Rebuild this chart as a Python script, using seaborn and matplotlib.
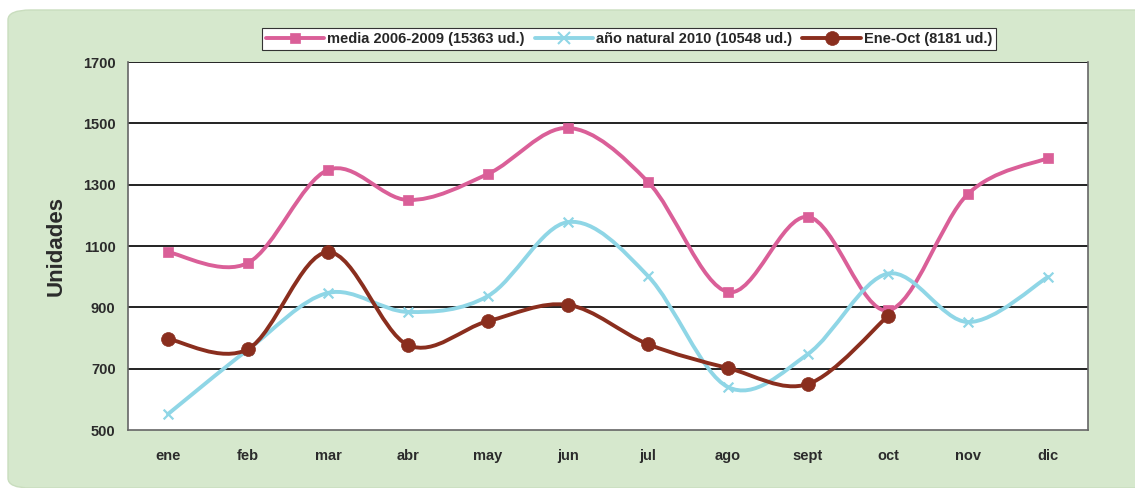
import numpy as np
import pandas as pd
import matplotlib
matplotlib.use("Agg")
import matplotlib.pyplot as plt
import seaborn as sns
from matplotlib.path import Path
from matplotlib.patches import PathPatch, FancyBboxPatch
from matplotlib.lines import Line2D

months = ["ene", "feb", "mar", "abr", "may", "jun", "jul", "ago", "sept", "oct", "nov", "dic"]
media_0609 = [1080, 1045, 1348, 1250, 1335, 1485, 1309, 950, 1195, 890, 1270, 1387]
natural_2010 = [552, 762, 947, 885, 937, 1178, 1002, 640, 748, 1010, 852, 999]
ene_oct = [797, 764, 1080, 777, 855, 908, 780, 702, 650, 872]
labels = ["media 2006-2009 (15363 ud.)", "año natural 2010 (10548 ud.)", "Ene-Oct (8181 ud.)"]
yticks = [500, 700, 900, 1100, 1300, 1500, 1700]

colors = ["#DA5F98", "#8FD6E6", "#8A2E1E"]
markers = ["s", "x", "o"]
msizes = [7, 7, 10]

sns.set_style("white")
plt.rcParams["font.family"] = ["Liberation Sans", "DejaVu Sans"]

fig = plt.figure(figsize=(11.35, 4.88), dpi=100)
fig.patch.set_facecolor("white")
bg = FancyBboxPatch((8 / 1135, 0.0), 1.05, 1 - 10 / 488, boxstyle="round,pad=0,rounding_size=0.02",
                    transform=fig.transFigure, facecolor="#D6E8CD", edgecolor="#C9DDBE", lw=1, zorder=-10)
fig.patches.append(bg)

ax = fig.add_axes([128 / 1135, 58 / 488, (1088 - 128) / 1135, (430 - 62) / 488])
ax.set_facecolor("white")


def smooth_path(xs, ys):
    pts = np.column_stack([xs, ys]).astype(float)
    n = len(pts)
    verts = [pts[0]]
    codes = [Path.MOVETO]
    for i in range(n - 1):
        p0 = pts[max(i - 1, 0)]
        p1 = pts[i]
        p2 = pts[i + 1]
        p3 = pts[min(i + 2, n - 1)]
        c1 = p1 + (p2 - p0) / 6.0
        c2 = p2 - (p3 - p1) / 6.0
        verts += [c1, c2, p2]
        codes += [Path.CURVE4] * 3
    return Path(verts, codes)


series = [media_0609, natural_2010, ene_oct]
handles = []
for vals, col, mk, ms, lab in zip(series, colors, markers, msizes, labels):
    xs = np.arange(len(vals))
    patch = PathPatch(smooth_path(xs, vals), facecolor="none", edgecolor=col, lw=2.8, zorder=3,
                      capstyle="round", joinstyle="round")
    ax.add_patch(patch)
    df = pd.DataFrame({"x": xs, "y": vals})
    if mk == "x":
        sns.scatterplot(data=df, x="x", y="y", marker="x", color=col, s=ms ** 2, linewidth=1.6,
                        ax=ax, zorder=4, legend=False)
    else:
        sns.scatterplot(data=df, x="x", y="y", marker=mk, color=col, s=ms ** 2, edgecolor=col,
                        linewidth=0.5, ax=ax, zorder=4, legend=False)
    handles.append(Line2D([], [], color=col, lw=2.8, marker=mk, markersize=ms if mk != "x" else 8,
                          markeredgewidth=1.5 if mk == "x" else 0.5, markerfacecolor=col, markeredgecolor=col))

ax.set_xlim(-0.5, 11.5)
ax.set_ylim(500, 1700)
ax.set_yticks(yticks)
ax.set_yticklabels([str(v) for v in yticks], fontsize=10.5, fontweight="bold", color="#2b2b2b")
ax.set_xticks(np.arange(len(months)))
ax.set_xticklabels(months, fontsize=10.5, fontweight="bold", color="#2b2b2b")
ax.set_xticks(np.arange(-0.5, 12, 1), minor=True)
ax.tick_params(axis="x", which="major", length=0, pad=14)
ax.tick_params(axis="x", which="minor", length=5, width=1, color="#555555", direction="out")
ax.tick_params(axis="y", which="major", length=5, width=1, color="#555555", direction="out", pad=4)
for y in yticks[1:]:
    ax.axhline(y, color="#222222", lw=1.4, zorder=1)
for s in ["left", "bottom", "right"]:
    ax.spines[s].set_color("#666666")
    ax.spines[s].set_linewidth(1.2)
ax.spines["top"].set_visible(False)
ax.set_xlabel("")
ax.set_ylabel("Unidades", fontsize=16, fontweight="bold", color="#2b2b2b", labelpad=12)

leg = fig.legend(handles, labels, loc="center", bbox_to_anchor=(629 / 1135, 1 - 39 / 488), ncol=3,
                 frameon=True, fancybox=False, edgecolor="#333333", framealpha=1,
                 prop={"weight": "bold", "size": 10.5}, handlelength=4.0, handletextpad=0.2,
                 columnspacing=0.7, borderpad=0.3)
leg.get_frame().set_linewidth(0.8)

fig.savefig("out.png", dpi=100)
